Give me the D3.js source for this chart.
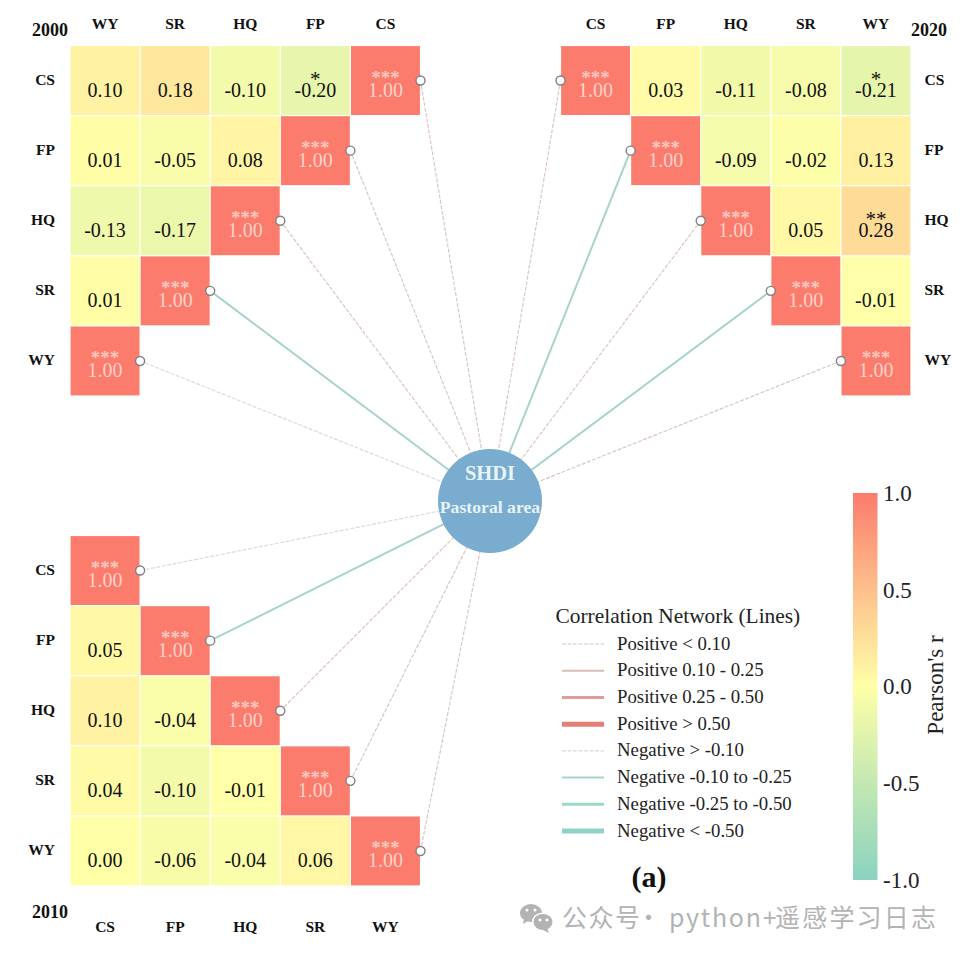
<!DOCTYPE html>
<html>
<head>
<meta charset="utf-8">
<script src="https://cdn.jsdelivr.net/npm/d3@7"></script>
<style>
  html, body { margin: 0; padding: 0; background: #fff; }
  svg { display: block; font-family: "Liberation Serif", serif; }
</style>
</head>
<body>
<svg id="chart" width="968" height="957"></svg>
<script>
// Values. Nulls are cells that are not drawn
const varsDown = ['CS', 'FP', 'HQ', 'SR', 'WY'];
const varsRev = ['WY', 'SR', 'HQ', 'FP', 'CS'];

const values2000 = [
  [0.10, 0.18, -0.10, -0.20, 1.00],
  [0.01, -0.05, 0.08, 1.00],
  [-0.13, -0.17, 1.00],
  [0.01, 1.00],
  [1.00]
];
const stars2000 = [
  ['', '', '', '*', '***'],
  ['', '', '', '***'],
  ['', '', '***'],
  ['', '***'],
  ['***']
];

const values2020 = [
  [1.00, 0.03, -0.11, -0.08, -0.21],
  [null, 1.00, -0.09, -0.02, 0.13],
  [null, null, 1.00, 0.05, 0.28],
  [null, null, null, 1.00, -0.01],
  [null, null, null, null, 1.00]
];
const stars2020 = [
  ['***', '', '', '', '*'],
  ['', '***', '', '', ''],
  ['', '', '***', '', '**'],
  ['', '', '', '***', ''],
  ['', '', '', '', '***']
];

const values2010 = [
  [1.00],
  [0.05, 1.00],
  [0.10, -0.04, 1.00],
  [0.04, -0.10, -0.01, 1.00],
  [0.00, -0.06, -0.04, 0.06, 1.00]
];
const stars2010 = [
  ['***'],
  ['', '***'],
  ['', '', '***'],
  ['', '', '', '***'],
  ['', '', '', '', '***']
];

const links2000 = [0.07, 0.07, 0.07, -0.2, -0.05];
const links2020 = [0.07, -0.2, 0.07, -0.2, 0.07];
const links2010 = [-0.05, -0.2, 0.07, 0.07, 0.07];

const legendLabels = ['Positive < 0.10', 'Positive 0.10 - 0.25', 'Positive 0.25 - 0.50', 'Positive > 0.50',
  'Negative > -0.10', 'Negative -0.10 to -0.25', 'Negative -0.25 to -0.50', 'Negative < -0.50'];
const legendValues = [0.05, 0.2, 0.4, 0.7, -0.05, -0.2, -0.4, -0.7];

const colorDomain = [-1, -0.5, 0, 0.5, 1];
const colorRange = ['#8bd2c0', '#c3e8b2', '#ffffa8', '#fdc08c', '#fb7b6c'];
const colorTicks = [-1, -0.5, 0, 0.5, 1];

const svg = d3.select('#chart');
const color = d3.scaleLinear().domain(colorDomain).range(colorRange);
const center = { x: 490, y: 501, r: 52 };

// Line look for one correlation class
function lineStyle(r) {
  const a = Math.abs(r);
  const pos = r >= 0;
  if (a < 0.1) return { w: 1.2, dash: '4 1.5', c: pos ? '#dac8c0' : '#d0e0dc' };
  if (a < 0.25) return { w: 2, dash: null, c: pos ? '#d9bcb7' : '#a6d4cc' };
  if (a < 0.5) return { w: 3, dash: null, c: pos ? '#e09c98' : '#9bd8c9' };
  return { w: 5, dash: null, c: pos ? '#e57f75' : '#8ed3c8' };
}

const linkLayer = svg.append('g');
const cellLayer = svg.append('g');

function drawPanel(p) {
  const x = d3.scaleBand().domain(p.cols).range(p.xRange);
  const y = d3.scaleBand().domain(varsDown).range(p.yRange);
  const band = x.bandwidth();

  const cells = [];
  p.values.forEach((row, i) => row.forEach((v, j) => {
    if (v === null) return;
    cells.push({ row: varsDown[i], col: p.cols[j], v: v, stars: p.stars[i][j] });
  }));

  const g = cellLayer.selectAll(null).data(cells).join('g')
    .attr('transform', d => `translate(${x(d.col)},${y(d.row)})`);
  g.append('rect')
    .attr('x', 0.6).attr('y', 0.6)
    .attr('width', band - 1.2).attr('height', band - 1.2)
    .attr('fill', d => color(d.v));
  g.append('text')
    .attr('x', band / 2).attr('y', band / 2 + 16.5)
    .attr('text-anchor', 'middle')
    .attr('font-size', 20)
    .attr('fill', d => d.v === 1 ? '#fcd2ca' : '#111')
    .text(d => d.v.toFixed(2));
  g.append('text')
    .attr('x', band / 2).attr('y', d => d.v === 1 ? band / 2 + 3 : band / 2 + 5.5)
    .attr('text-anchor', 'middle')
    .attr('font-size', d => d.v === 1 ? 19 : 21)
    .attr('font-weight', d => d.v === 1 ? 'bold' : 'normal')
    .attr('fill', d => d.v === 1 ? '#fbc9bf' : '#111')
    .text(d => d.stars);

  // Row and column names
  cellLayer.selectAll(null).data(varsDown).join('text')
    .attr('x', p.rowX).attr('y', d => y(d) + band / 2 + 4)
    .attr('text-anchor', p.rowAnchor)
    .attr('font-size', 15.5).attr('font-weight', 'bold').attr('fill', '#111')
    .text(d => d);
  cellLayer.selectAll(null).data(p.cols).join('text')
    .attr('x', d => x(d) + band / 2).attr('y', p.colY)
    .attr('text-anchor', 'middle')
    .attr('font-size', 15.5).attr('font-weight', 'bold').attr('fill', '#111')
    .text(d => d);
  cellLayer.append('text')
    .attr('x', p.yearX).attr('y', p.yearY)
    .attr('font-size', 18).attr('font-weight', 'bold').attr('fill', '#111')
    .text(p.year);

  // Nodes sit on the corner side of each diagonal cell
  const nodes = varsDown.map((v, i) => ({
    x: x(v) + band * p.nodeSide,
    y: y(v) + band / 2,
    style: lineStyle(p.links[i])
  }));
  linkLayer.selectAll(null).data(nodes).join('line')
    .attr('x1', d => d.x).attr('y1', d => d.y)
    .attr('x2', center.x).attr('y2', center.y)
    .attr('stroke', d => d.style.c)
    .attr('stroke-width', d => d.style.w)
    .attr('stroke-dasharray', d => d.style.dash);
  cellLayer.selectAll(null).data(nodes).join('circle')
    .attr('cx', d => d.x).attr('cy', d => d.y).attr('r', 4.5)
    .attr('fill', '#fff').attr('stroke', '#808080').attr('stroke-width', 1.4);
}

drawPanel({
  year: '2000', cols: varsRev, values: values2000, stars: stars2000, links: links2000,
  xRange: [70, 420.5], yRange: [45.5, 396], nodeSide: 1,
  rowX: 55, rowAnchor: 'end', colY: 28.5, yearX: 32, yearY: 36
});
drawPanel({
  year: '2020', cols: varsDown, values: values2020, stars: stars2020, links: links2020,
  xRange: [560.5, 911], yRange: [45.5, 396], nodeSide: 0,
  rowX: 924.5, rowAnchor: 'start', colY: 28.5, yearX: 911, yearY: 36
});
drawPanel({
  year: '2010', cols: varsDown, values: values2010, stars: stars2010, links: links2010,
  xRange: [70, 420.5], yRange: [535.5, 886], nodeSide: 1,
  rowX: 55, rowAnchor: 'end', colY: 932, yearX: 32, yearY: 918
});

// Centre node
svg.append('circle')
  .attr('cx', center.x).attr('cy', center.y).attr('r', center.r)
  .attr('fill', '#7aaccf');
svg.append('text')
  .attr('x', center.x).attr('y', 479.5)
  .attr('text-anchor', 'middle')
  .attr('font-size', 20.5).attr('font-weight', 'bold').attr('fill', '#e6f3f7')
  .text('SHDI');
svg.append('text')
  .attr('x', center.x).attr('y', 512.5)
  .attr('text-anchor', 'middle')
  .attr('font-size', 17.7).attr('font-weight', 'bold').attr('fill', '#e6f3f7')
  .text('Pastoral area');

// Line legend
const legend = svg.append('g');
legend.append('text')
  .attr('x', 555.5).attr('y', 622.5)
  .attr('font-size', 21.4).attr('fill', '#222')
  .text('Correlation Network (Lines)');
const legendY = d3.scalePoint().domain(legendLabels).range([644, 831]);
legend.selectAll('line').data(legendValues).join('line')
  .attr('x1', 562).attr('x2', 604)
  .attr('y1', (d, i) => legendY(legendLabels[i]))
  .attr('y2', (d, i) => legendY(legendLabels[i]))
  .attr('stroke', d => lineStyle(d).c)
  .attr('stroke-width', d => lineStyle(d).w)
  .attr('stroke-dasharray', d => lineStyle(d).dash);
legend.selectAll('text.item').data(legendLabels).join('text')
  .attr('class', 'item')
  .attr('x', 617).attr('y', d => legendY(d) + 5.5)
  .attr('font-size', 18.8).attr('fill', '#222')
  .text(d => d);

// Colour bar
const gradient = svg.append('defs').append('linearGradient')
  .attr('id', 'bar').attr('x1', 0).attr('x2', 0).attr('y1', 1).attr('y2', 0);
gradient.selectAll('stop').data(colorDomain).join('stop')
  .attr('offset', (d, i) => i / (colorDomain.length - 1))
  .attr('stop-color', d => color(d));
const barY = d3.scaleLinear().domain([-1, 1]).range([880, 493]);
svg.append('rect')
  .attr('x', 853).attr('y', barY(1))
  .attr('width', 24.5).attr('height', barY(-1) - barY(1))
  .attr('fill', 'url(#bar)');
const barAxis = svg.append('g')
  .attr('transform', 'translate(877,0)')
  .call(d3.axisRight(barY).tickValues(colorTicks).tickFormat(d => d.toFixed(1)).tickSize(0).tickPadding(6));
barAxis.select('.domain').remove();
barAxis.selectAll('text')
  .attr('font-family', '"Liberation Serif", serif')
  .attr('font-size', 23).attr('fill', '#222');
svg.append('text')
  .attr('transform', 'translate(943,685) rotate(-90)')
  .attr('text-anchor', 'middle')
  .attr('font-size', 23).attr('fill', '#222')
  .text("Pearson's r");

svg.append('text')
  .attr('x', 649).attr('y', 887)
  .attr('text-anchor', 'middle')
  .attr('font-size', 30).attr('font-weight', 'bold').attr('fill', '#111')
  .text('(a)');

// Watermark
const mark = svg.append('g').attr('fill', '#b3b3b3');
mark.append('ellipse').attr('cx', 531).attr('cy', 913).attr('rx', 11).attr('ry', 9);
mark.append('path').attr('d', 'M524 919l-1 5 5-3z');
mark.append('ellipse').attr('cx', 543).attr('cy', 922).attr('rx', 11).attr('ry', 9.5).attr('fill', '#fff');
mark.append('ellipse').attr('cx', 543).attr('cy', 922).attr('rx', 9.5).attr('ry', 8);
mark.append('path').attr('d', 'M547 928l2 5-6-3z');
mark.selectAll('circle').data([[527, 910], [535, 910], [540, 920], [547, 920]]).join('circle')
  .attr('cx', d => d[0]).attr('cy', d => d[1]).attr('r', 1.5).attr('fill', '#fff');
svg.selectAll('text.mark')
  .data([['公众号', 562, 1.5], ['·', 636, 0], ['python+', 669, 1.7], ['遥感学习日志', 775, 2.2]])
  .join('text')
  .attr('class', 'mark')
  .attr('x', d => d[1]).attr('y', 927)
  .attr('font-family', '"Noto Sans CJK SC", sans-serif')
  .attr('font-size', 25).attr('letter-spacing', d => d[2]).attr('fill', '#b3b3b3')
  .text(d => d[0]);
</script>
</body>
</html>
